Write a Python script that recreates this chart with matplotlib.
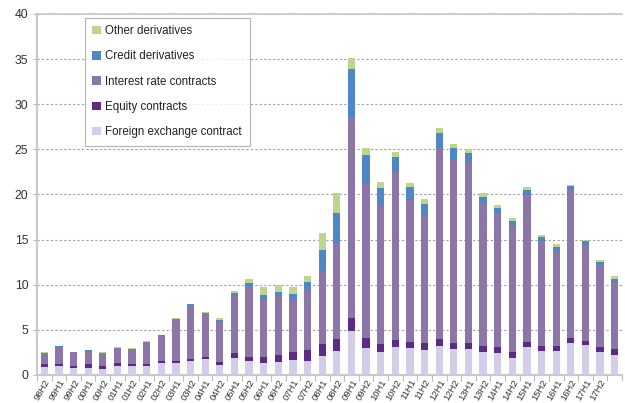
import matplotlib
matplotlib.use("Agg")
import matplotlib.pyplot as plt
import numpy as np

plt.rcParams['font.family'] = ['Liberation Sans', 'DejaVu Sans']

periods = ["98H2", "99H1", "99H2", "00H1", "00H2", "01H1", "01H2", "02H1", "02H2", "03H1",
           "03H2", "04H1", "04H2", "05H1", "05H2", "06H1", "06H2", "07H1", "07H2", "08H1",
           "08H2", "09H1", "09H2", "10H1", "10H2", "11H1", "11H2", "12H1", "12H2", "13H1",
           "13H2", "14H1", "14H2", "15H1", "15H2", "16H1", "16H2", "17H1", "17H2", "18H1"]
# the last period's label is not shown in the reference
tick_labels = periods[:-1] + [""]

fx = [0.93, 1.0, 0.75, 0.8, 0.7, 1.05, 0.95, 1.0, 1.3, 1.3,
      1.5, 1.75, 1.1, 1.85, 1.55, 1.35, 1.45, 1.65, 1.6, 2.15,
      2.7, 4.9, 2.95, 2.5, 3.15, 2.95, 2.8, 3.2, 2.9, 2.9,
      2.6, 2.4, 1.85, 3.05, 2.65, 2.65, 3.5, 3.3, 2.6, 2.2]
equity = [0.27, 0.25, 0.3, 0.4, 0.3, 0.3, 0.25, 0.25, 0.3, 0.25,
          0.3, 0.25, 0.3, 0.55, 0.4, 0.6, 0.75, 0.85, 1.2, 1.3,
          1.3, 1.45, 1.2, 0.95, 0.75, 0.75, 0.7, 0.8, 0.7, 0.7,
          0.65, 0.7, 0.65, 0.65, 0.6, 0.55, 0.55, 0.45, 0.55, 0.65]
interest = [1.2, 1.9, 1.45, 1.5, 1.4, 1.6, 1.65, 2.4, 2.75, 4.65,
            6.0, 4.85, 4.5, 6.4, 7.8, 6.45, 6.5, 5.85, 6.7, 8.1,
            10.6, 22.25, 17.05, 15.35, 18.6, 15.65, 14.15, 21.1, 20.3, 20.1,
            15.85, 14.9, 14.0, 16.2, 11.55, 10.5, 16.5, 10.7, 9.0, 7.5]
credit = [0.03, 0.03, 0.03, 0.03, 0.03, 0.05, 0.05, 0.05, 0.05, 0.05,
          0.05, 0.05, 0.2, 0.25, 0.45, 0.5, 0.5, 0.65, 0.85, 2.25,
          3.35, 5.35, 3.2, 1.95, 1.7, 1.45, 1.35, 1.7, 1.2, 0.85,
          0.65, 0.5, 0.6, 0.65, 0.5, 0.45, 0.35, 0.35, 0.35, 0.3]
other = [0.08, 0.07, 0.07, 0.07, 0.07, 0.15, 0.1, 0.05, 0.05, 0.1,
         0.05, 0.05, 0.25, 0.25, 0.4, 0.85, 0.75, 0.75, 0.65, 1.9,
         2.25, 1.15, 0.7, 0.65, 0.55, 0.5, 0.5, 0.6, 0.45, 0.45,
         0.45, 0.35, 0.3, 0.3, 0.2, 0.35, 0.2, 0.15, 0.2, 0.3]

series = [
    ("Foreign exchange contract", fx, "#D3CDE7"),
    ("Equity contracts", equity, "#5E2B84"),
    ("Interest rate contracts", interest, "#8C76A8"),
    ("Credit derivatives", credit, "#4E86C6"),
    ("Other derivatives", other, "#BCD68E"),
]

fig = plt.figure(figsize=(6.25, 4.03), dpi=100)
ax = fig.add_axes([0.0587, 0.0695, 0.937, 0.8958])

x = np.arange(len(periods))
bottom = np.zeros(len(periods))
handles = {}
for name, vals, col in series:
    v = np.array(vals)
    h = ax.bar(x, v, width=0.5, bottom=bottom, color=col, edgecolor='none', label=name, zorder=3)
    handles[name] = h
    bottom += v

ax.set_xlim(-0.52, len(periods) - 0.48)
ax.set_ylim(0, 40)
ax.set_yticks(np.arange(0, 41, 5))
ax.yaxis.grid(True, linestyle=(0, (2, 2)), color='#A0A0A0', linewidth=0.8, zorder=0)
ax.tick_params(axis='y', length=3, color='#BBBBBB', labelsize=8.8, labelcolor='#333333', pad=3)

ax.set_xticks(x)
ax.set_xticklabels(tick_labels, rotation=60, ha='right', rotation_mode='anchor',
                   fontsize=6.8, color='#333333')
ax.tick_params(axis='x', length=0, pad=2)
ax.set_xticks(np.arange(-0.5, len(periods), 1.0), minor=True)
ax.tick_params(axis='x', which='minor', length=4, color='#BBBBBB', width=0.8)

ax.spines['right'].set_visible(False)
ax.spines['top'].set_color('#C8C8C8')
ax.spines['top'].set_linewidth(1.2)
ax.spines['left'].set_color('#C8C8C8')
ax.spines['left'].set_linewidth(1.5)
ax.spines['bottom'].set_color('#C8C8C8')
ax.spines['bottom'].set_linewidth(1.5)

order = ["Other derivatives", "Credit derivatives", "Interest rate contracts",
         "Equity contracts", "Foreign exchange contract"]
leg = ax.legend([handles[n] for n in order], order, loc='upper left',
                bbox_to_anchor=(0.082, 0.99), fontsize=8.3, frameon=True, fancybox=False,
                edgecolor='#A0A0A0', handlelength=0.75, handleheight=0.75, handletextpad=0.4,
                labelspacing=1.15, borderpad=0.65, borderaxespad=0.0)
leg.get_frame().set_linewidth(0.8)
for t in leg.get_texts():
    t.set_color('#222222')

fig.savefig("out.png", dpi=100)
